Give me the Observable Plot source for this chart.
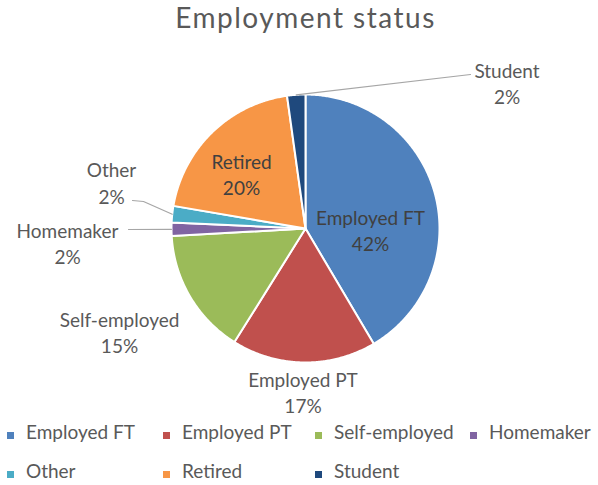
<!DOCTYPE html>
<html>
<head>
<meta charset="utf-8">
<script src="https://cdn.jsdelivr.net/npm/d3@7"></script>
<script src="https://cdn.jsdelivr.net/npm/@observablehq/plot@0.6"></script>
<style>
  html, body { margin: 0; padding: 0; background: #ffffff; }
  #chart { position: relative; width: 598px; height: 485px; font-family: Lato, "Open Sans", sans-serif; overflow: hidden; }
  #title { position: absolute; top: 3px; left: 0; width: 598px; padding-left: 13px; box-sizing: border-box; text-align: center;
           font-size: 28px; line-height: 28px; letter-spacing: 1.5px; color: #595959; white-space: nowrap; }
  #plot { position: absolute; top: 50px; left: 0; }
  .lg { position: absolute; display: flex; align-items: flex-start; font-size: 19px; line-height: 19px; color: #595959; white-space: nowrap; }
  .lg .sw { width: 7px; height: 7px; margin-top: 10px; margin-right: 12px; flex: none; }
</style>
</head>
<body>
<div id="chart">
  <div id="title">Employment status</div>
  <div id="plot"></div>
  <div id="legend"></div>
</div>
<script>
// ---- data ----
const categories = ["Employed FT", "Employed PT", "Self-employed", "Homemaker", "Other", "Retired", "Student"];
const shares     = [41.5, 17.4, 15.2, 1.6, 2.0, 20.1, 2.2];
const palette    = ["#4F81BD", "#C0504D", "#9BBB59", "#8064A2", "#4BACC6", "#F79646", "#1F497D"];

// ---- label layout (offset of each label block from the pie centre, px) ----
const labelOffset = {
  "Employed FT": [65, 1],
  "Employed PT": [-2.5, 163],
  "Self-employed": [-186, 103],
  "Homemaker": [-238, 14],
  "Other": [-194, -46.5],
  "Retired": [-64, -55],
  "Student": [201.5, -146]
};
const insideLabels = ["Employed FT", "Retired"];
const leaderBends = {
  "Student": [[165, -154]],
  "Other": [[-162, -27], [-173, -28]],
  "Homemaker": [[-177, 1]]
};

// ---- geometry ----
const W = 598, H = 365, CX = 305, CY = 178, R = 134;
const table = categories.map((c, i) => ({cat: c, share: shares[i]}));
const total = d3.sum(shares);
const arcs = d3.pie().sort(null).value(d => d.share)(table);

const slicePts = [];
for (const a of arcs) {
  const n = Math.max(2, Math.ceil((a.endAngle - a.startAngle) / (Math.PI / 360)));
  slicePts.push({cat: a.data.cat, x: 0, y: 0});
  for (let i = 0; i <= n; i++) {
    const t = a.startAngle + (a.endAngle - a.startAngle) * i / n;
    slicePts.push({cat: a.data.cat, x: R * Math.sin(t), y: -R * Math.cos(t)});
  }
  slicePts.push({cat: a.data.cat, x: 0, y: 0});
}

const labels = arcs.map(a => {
  const c = a.data.cat;
  const [dx, dy] = labelOffset[c];
  return {cat: c, x: dx, y: dy, inside: insideLabels.includes(c),
          text: `${c}\n${Math.round(a.data.share / total * 100)}%`};
});

const leaderPts = [];
for (const a of arcs) {
  const c = a.data.cat;
  if (!leaderBends[c]) continue;
  const m = (a.startAngle + a.endAngle) / 2;
  leaderPts.push({cat: c, x: R * Math.sin(m), y: -R * Math.cos(m)});
  for (const [bx, by] of leaderBends[c]) leaderPts.push({cat: c, x: bx, y: by});
}

const font = "Lato, 'Open Sans', sans-serif";
const plot = Plot.plot({
  width: W, height: H, margin: 0,
  style: {background: "transparent", fontFamily: font, overflow: "visible"},
  x: {domain: [-CX, W - CX], axis: null},
  y: {domain: [-CY, H - CY], range: [0, H], axis: null},
  color: {domain: categories, range: palette},
  marks: [
    Plot.line(slicePts, {x: "x", y: "y", z: "cat", fill: "cat", stroke: "white", strokeWidth: 2, strokeLinejoin: "round", curve: "linear"}),
    Plot.line(leaderPts, {x: "x", y: "y", z: "cat", stroke: "#a6a6a6", strokeWidth: 1.2, curve: "linear"}),
    Plot.text(labels.filter(d => d.inside), {x: "x", y: "y", text: "text", fill: "#404040", fontSize: 19, lineHeight: 1.4, textAnchor: "middle", lineAnchor: "middle", fontFamily: font}),
    Plot.text(labels.filter(d => !d.inside), {x: "x", y: "y", text: "text", fill: "#595959", fontSize: 19, lineHeight: 1.4, textAnchor: "middle", lineAnchor: "middle", fontFamily: font})
  ]
});
document.getElementById("plot").appendChild(plot);

// ---- legend (HTML, from the same arrays) ----
const colX = [7, 163, 315, 470];
const rowTop = [422, 461];
const legend = document.getElementById("legend");
categories.forEach((c, i) => {
  const item = document.createElement("div");
  item.className = "lg";
  item.style.left = colX[i % 4] + "px";
  item.style.top = rowTop[Math.floor(i / 4)] + "px";
  const sw = document.createElement("span");
  sw.className = "sw";
  sw.style.background = palette[i];
  const tx = document.createElement("span");
  tx.textContent = c;
  item.appendChild(sw);
  item.appendChild(tx);
  legend.appendChild(item);
});
</script>
</body>
</html>
